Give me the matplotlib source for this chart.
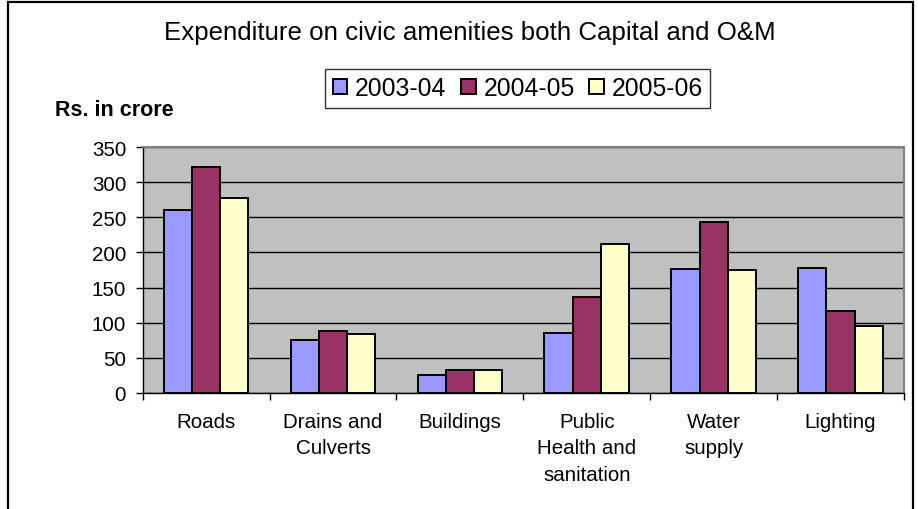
"""Expenditure on civic amenities, grouped bar chart."""

import matplotlib
matplotlib.use("Agg")
import matplotlib.pyplot as plt
import numpy as np
from matplotlib.patches import Rectangle

plt.rcParams["font.family"] = ["Liberation Sans", "DejaVu Sans"]

CATEGORIES = ["Roads", "Drains and\nCulverts", "Buildings",
              "Public\nHealth and\nsanitation", "Water\nsupply", "Lighting"]
YEARS = ["2003-04", "2004-05", "2005-06"]
VALUES_0304 = [261, 76, 25, 86, 177, 178]
VALUES_0405 = [321, 88, 33, 137, 243, 116]
VALUES_0506 = [278, 84, 33, 212, 175, 96]
Y_TICKS = [0, 50, 100, 150, 200, 250, 300, 350]

COLORS = ["#9999FF", "#993366", "#FFFFCC"]

fig = plt.figure(figsize=(9.18, 5.10), dpi=100)
ax = fig.add_axes([0.1555, 0.2275, 0.8292, 0.4823])
ax.set_facecolor("#C0C0C0")

x = np.arange(len(CATEGORIES))
width = 1 / 4.5
series = [VALUES_0304, VALUES_0405, VALUES_0506]
for i, (vals, year, col) in enumerate(zip(series, YEARS, COLORS)):
    ax.bar(x + (i - 1) * width, vals, width, color=col, edgecolor="black",
           linewidth=1.4, label=year, zorder=3)

ax.set_xlim(-0.5, len(CATEGORIES) - 0.5)
ax.set_ylim(0, 350)
ax.set_yticks(Y_TICKS)
ax.yaxis.grid(True, color="black", linewidth=1, zorder=1)
ax.set_axisbelow(True)

ax.set_xticks(x)
ax.set_xticklabels(CATEGORIES, linespacing=1.47, va="top")
ax.set_xticks(np.arange(len(CATEGORIES) + 1) - 0.5, minor=True)
ax.tick_params(axis="x", which="major", length=0, pad=14, labelsize=14.8)
ax.tick_params(axis="x", which="minor", length=5, width=1, color="black")
ax.tick_params(axis="y", length=5, width=1, pad=7, labelsize=14.8)

for side in ("top", "right"):
    ax.spines[side].set_color("#808080")
    ax.spines[side].set_linewidth(1.5)
for side in ("left", "bottom"):
    ax.spines[side].set_color("black")
    ax.spines[side].set_linewidth(1)

fig.text(0.512, 0.935, "Expenditure on civic amenities both Capital and O&M",
         ha="center", va="center", fontsize=18.6)
fig.text(0.06, 0.784, "Rs. in crore", ha="left", va="center",
         fontsize=15.5, fontweight="bold")

leg = fig.legend(loc="center", bbox_to_anchor=(0.564, 0.825), ncol=3,
                 fontsize=17.8, frameon=True, fancybox=False, handlelength=0.6,
                 handleheight=0.6, handletextpad=0.3, columnspacing=0.6,
                 borderpad=0.3)
leg.get_frame().set_edgecolor("black")
leg.get_frame().set_linewidth(1)

fig.patches.append(Rectangle((8 / 918, -0.1), (913 - 8) / 918, 1.1 - 3 / 510,
                             transform=fig.transFigure, fill=False,
                             edgecolor="black", linewidth=1.6))

fig.savefig("out.png", dpi=100)
